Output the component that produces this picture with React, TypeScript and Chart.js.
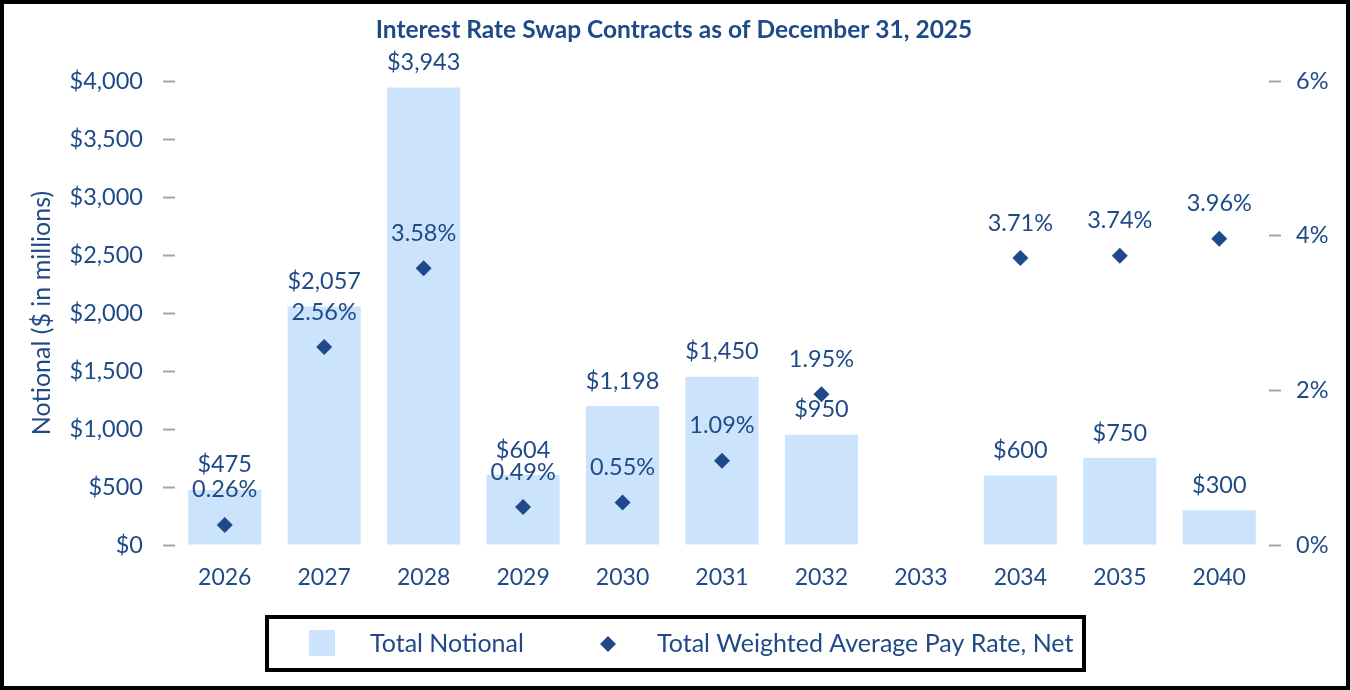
import React, { useEffect, useRef } from "react";
import { Chart, registerables } from "chart.js";

Chart.register(...registerables);

const chartTitle = "Interest Rate Swap Contracts as of December 31, 2025";
const leftAxisTitle = "Notional ($ in millions)";
const categories = ["2026", "2027", "2028", "2029", "2030", "2031", "2032", "2033", "2034", "2035", "2040"];
const notionalValues: (number | null)[] = [475, 2057, 3943, 604, 1198, 1450, 950, null, 600, 750, 300];
const payRateValues: (number | null)[] = [0.26, 2.56, 3.58, 0.49, 0.55, 1.09, 1.95, null, 3.71, 3.74, 3.96];
const leftTickMin = 0;
const leftTickMax = 4000;
const leftTickStep = 500;
const rightTickMin = 0;
const rightTickMax = 6;
const rightTickStep = 2;
const legendLabels = ["Total Notional", "Total Weighted Average Pay Rate, Net"];

const FONT = "Lato, 'Noto Sans', sans-serif";
const TEXT = "#1F4A87";
const BAR = "#CCE4FB";
const DIAMOND = "#1E4A8C";
const TICK = "#A6A6A6";

const fmtMoney = (v: number) => "$" + Math.round(v).toLocaleString("en-US");
const fmtPct = (v: number) => v.toFixed(2) + "%";

const decorPlugin = {
  id: "decor",
  afterDatasetsDraw(chart: any) {
    const ctx = chart.ctx;
    ctx.save();
    ctx.fillStyle = TEXT;
    ctx.font = `23.5px ${FONT}`;
    ctx.textAlign = "center";
    ctx.textBaseline = "middle";
    // bar labels
    const barMeta = chart.getDatasetMeta(0);
    barMeta.data.forEach((el: any, i: number) => {
      const v = notionalValues[i];
      if (v == null) return;
      ctx.fillText(fmtMoney(v), el.x, el.y - 25);
    });
    // point labels
    const ptMeta = chart.getDatasetMeta(1);
    ptMeta.data.forEach((el: any, i: number) => {
      const v = payRateValues[i];
      if (v == null) return;
      ctx.fillText(fmtPct(v), el.x, el.y - 35);
    });
    ctx.restore();
  },
  afterDraw(chart: any) {
    const ctx = chart.ctx;
    const W = chart.width;
    const H = chart.height;
    ctx.save();
    // title
    ctx.fillStyle = TEXT;
    ctx.font = `bold 24.5px ${FONT}`;
    ctx.textAlign = "center";
    ctx.textBaseline = "middle";
    ctx.fillText(chartTitle, 674, 30);

    // legend box
    ctx.strokeStyle = "#000";
    ctx.lineWidth = 4;
    ctx.strokeRect(267, 617, 817, 53);
    ctx.fillStyle = BAR;
    ctx.fillRect(309, 630, 26, 26);
    ctx.fillStyle = TEXT;
    ctx.font = `25px ${FONT}`;
    ctx.textAlign = "left";
    ctx.textBaseline = "middle";
    ctx.fillText(legendLabels[0], 370, 644);
    ctx.fillStyle = DIAMOND;
    ctx.beginPath();
    ctx.moveTo(608 - 8, 644);
    ctx.lineTo(608, 644 - 8);
    ctx.lineTo(608 + 8, 644);
    ctx.lineTo(608, 644 + 8);
    ctx.closePath();
    ctx.fill();
    ctx.fillStyle = TEXT;
    ctx.fillText(legendLabels[1], 657, 644);

    // outer border
    ctx.strokeStyle = "#000";
    ctx.lineWidth = 4;
    ctx.strokeRect(2, 2, W - 4, H - 4);
    ctx.restore();
  },
};

export default function App() {
  const ref = useRef<HTMLCanvasElement | null>(null);

  useEffect(() => {
    if (!ref.current) return;
    const chart = new Chart(ref.current, {
      type: "bar",
      data: {
        labels: categories,
        datasets: [
          {
            type: "bar",
            label: legendLabels[0],
            data: notionalValues,
            backgroundColor: BAR,
            borderWidth: 0,
            yAxisID: "y",
            barPercentage: 0.735,
            categoryPercentage: 1,
            order: 2,
          },
          {
            type: "line",
            label: legendLabels[1],
            data: payRateValues,
            showLine: false,
            pointStyle: "rectRot",
            pointRadius: 8,
            pointHoverRadius: 8,
            pointBackgroundColor: DIAMOND,
            pointBorderColor: DIAMOND,
            pointBorderWidth: 0,
            yAxisID: "y1",
            order: 1,
          } as any,
        ],
      },
      options: {
        responsive: false,
        animation: false,
        devicePixelRatio: 1,
        layout: { padding: { left: 0, right: 0, top: 81, bottom: 95 } },
        plugins: {
          legend: { display: false },
          title: { display: false },
          tooltip: { enabled: false },
        },
        scales: {
          x: {
            grid: { display: false, drawTicks: false },
            border: { display: false },
            ticks: { color: TEXT, font: { family: FONT, size: 23 }, padding: 19 },
            afterFit: (s: any) => {
              s.height = 50;
            },
          },
          y: {
            type: "linear",
            position: "left",
            min: leftTickMin,
            max: leftTickMax,
            ticks: {
              stepSize: leftTickStep,
              color: TEXT,
              font: { family: FONT, size: 23.5 },
              padding: 20,
              callback: (v: any) => fmtMoney(Number(v)),
            },
            grid: {
              drawOnChartArea: false,
              drawTicks: true,
              tickLength: 12,
              tickColor: TICK,
              tickWidth: 2,
            },
            border: { display: false },
            title: {
              display: true,
              text: leftAxisTitle,
              color: TEXT,
              font: { family: FONT, size: 25 },
              padding: { top: 27, bottom: 0 },
            },
            afterFit: (s: any) => {
              s.width = 175;
            },
          },
          y1: {
            type: "linear",
            position: "right",
            min: rightTickMin,
            max: rightTickMax,
            ticks: {
              stepSize: rightTickStep,
              color: TEXT,
              font: { family: FONT, size: 23.5 },
              padding: 15,
              callback: (v: any) => Number(v) + "%",
            },
            grid: {
              drawOnChartArea: false,
              drawTicks: true,
              tickLength: 12,
              tickColor: TICK,
              tickWidth: 2,
            },
            border: { display: false },
            afterFit: (s: any) => {
              s.width = 81;
            },
          },
        },
      } as any,
      plugins: [decorPlugin],
    });
    return () => chart.destroy();
  }, []);

  return (
    <div style={{ position: "absolute", left: 0, top: 0, width: 1350, height: 690, background: "#fff" }}>
      <canvas ref={ref} width={1350} height={690} style={{ width: 1350, height: 690, display: "block" }} />
    </div>
  );
}
